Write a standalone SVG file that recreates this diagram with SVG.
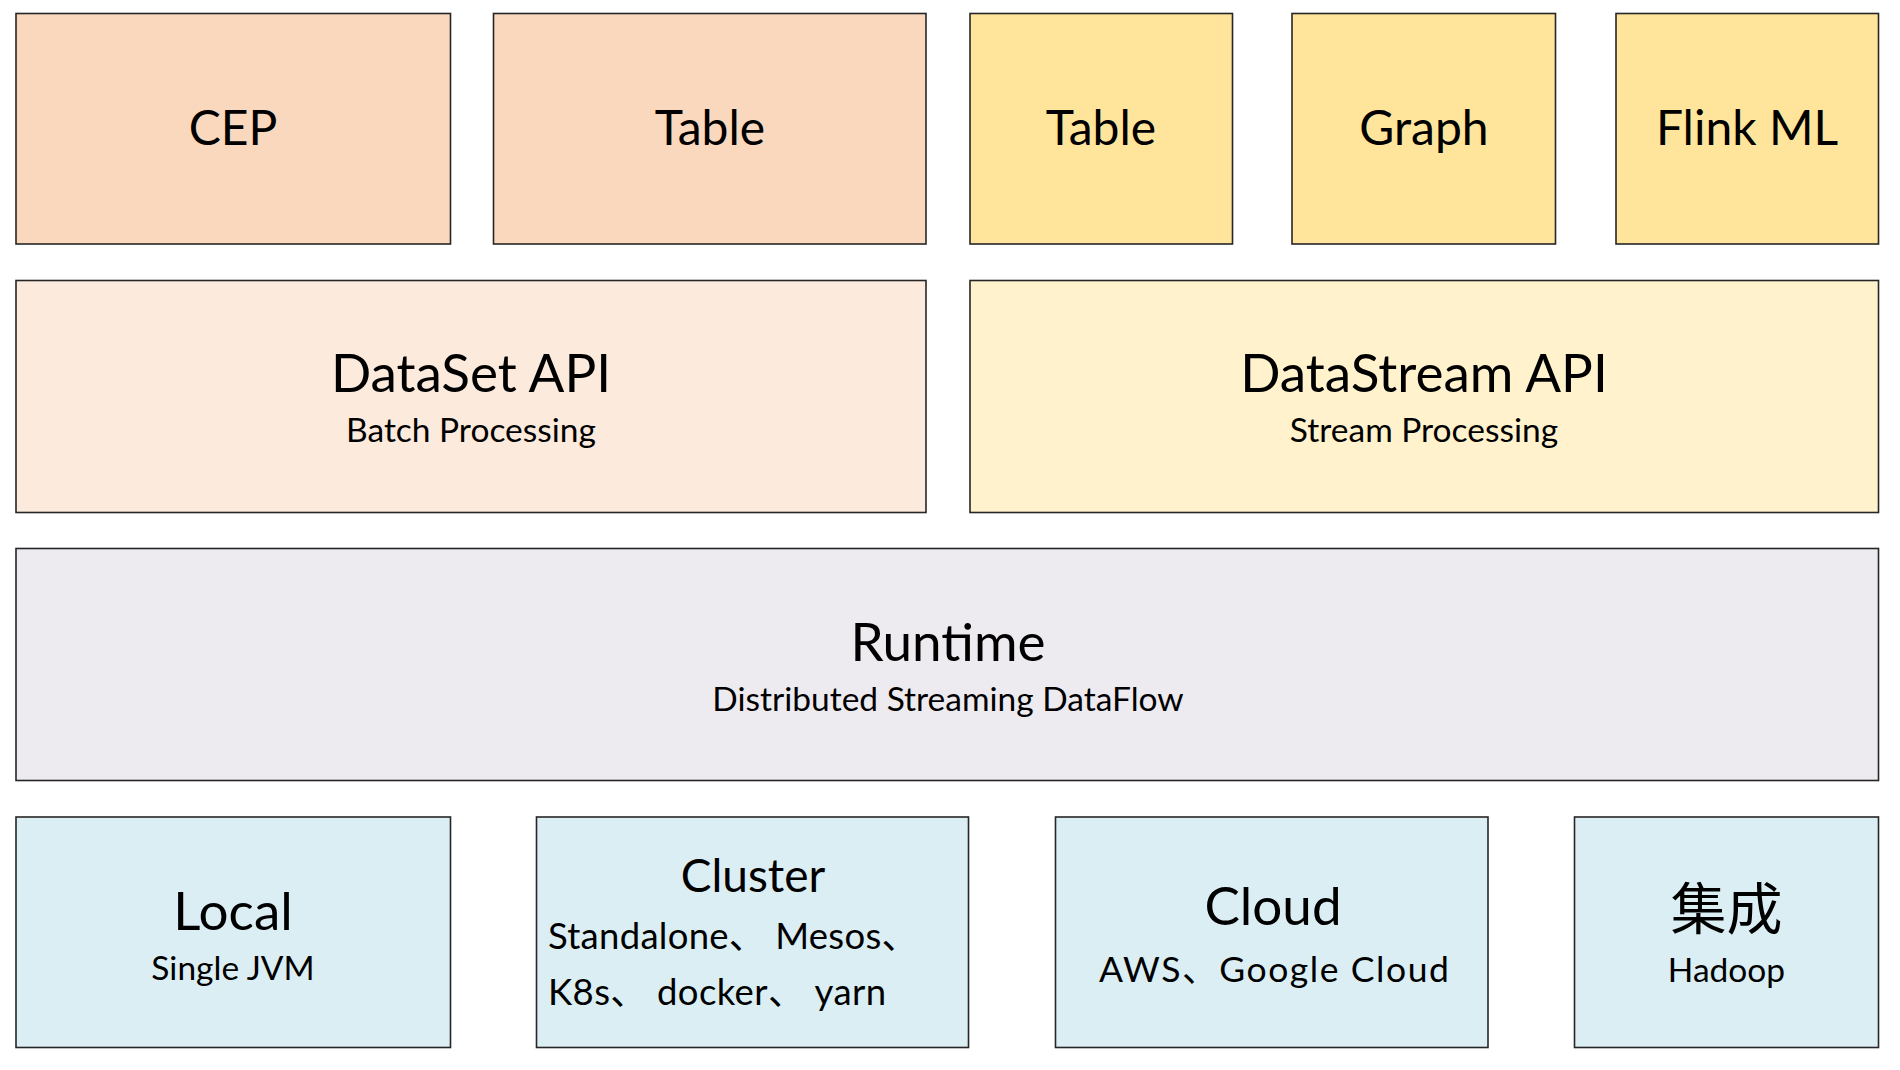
<svg xmlns="http://www.w3.org/2000/svg" width="1900" height="1070" viewBox="0 0 1900 1070">
<style>
.box{stroke:#262626;stroke-width:1.6}
text{font-family:Lato,"Noto Sans CJK SC",sans-serif;fill:#000;text-anchor:middle}
.peach{fill:#F9D8BD}
.peachL{fill:#FCEADC}
.gold{fill:#FFE59B}
.goldL{fill:#FFF2CC}
.lav{fill:#EDEAF0}
.blue{fill:#DBEEF3}
.lbl{font-size:48px}
.ttl{font-size:53px}
.sub{font-size:33.5px}
.sub2{font-size:35.5px}
.cl{font-size:36.5px;text-anchor:start}
</style>
<rect width="1900" height="1070" fill="#fff"/>
<g id="connectors"></g>
<g id="cep"><rect class="box peach" x="16" y="13.5" width="434.5" height="230.5"/><text class="lbl" x="233" y="144.5">CEP</text></g>
<g id="table-batch"><rect class="box peach" x="493.5" y="13.5" width="432.5" height="230.5"/><text class="lbl" x="710" y="144.5">Table</text></g>
<g id="table-stream"><rect class="box gold" x="970" y="13.5" width="262.5" height="230.5"/><text class="lbl" x="1101" y="144.5">Table</text></g>
<g id="graph"><rect class="box gold" x="1292" y="13.5" width="263.5" height="230.5"/><text class="lbl" x="1424" y="144.5">Graph</text></g>
<g id="flinkml"><rect class="box gold" x="1616" y="13.5" width="262.5" height="230.5"/><text class="lbl" x="1747" y="144.5">Flink ML</text></g>
<g id="dataset"><rect class="box peachL" x="16" y="280.5" width="910" height="232"/><text class="ttl" x="471" y="392">DataSet API</text><text class="sub" x="471" y="442">Batch Processing</text></g>
<g id="datastream"><rect class="box goldL" x="970" y="280.5" width="908.5" height="232"/><text class="ttl" x="1424" y="392">DataStream API</text><text class="sub" x="1424" y="442">Stream Processing</text></g>
<g id="runtime"><rect class="box lav" x="16" y="548.5" width="1862.5" height="232"/><text class="ttl" x="948" y="661">Runtime</text><text class="sub" x="948" y="711">Distributed Streaming DataFlow</text></g>
<g id="local"><rect class="box blue" x="16" y="817" width="434.5" height="230.5"/><text class="ttl" x="233" y="930">Local</text><text class="sub" x="233" y="980">Single JVM</text></g>
<g id="cluster"><rect class="box blue" x="536.5" y="817" width="432" height="230.5"/><text class="ttl" x="753" y="892" style="font-size:46px">Cluster</text><text class="cl" x="548" y="949" textLength="370">Standalone、 Mesos、</text><text class="cl" x="548" y="1005" textLength="338">K8s、 docker、 yarn</text></g>
<g id="cloud"><rect class="box blue" x="1055.5" y="817" width="432.5" height="230.5"/><text class="ttl" x="1273" y="925">Cloud</text><text class="sub2" x="1274" y="982" textLength="350">AWS、Google Cloud</text></g>
<g id="integration"><rect class="box blue" x="1574.5" y="817" width="304" height="230.5"/><text x="1726.5" y="929" style="font-size:56px">集成</text><text class="sub" x="1726.5" y="982">Hadoop</text></g>
</svg>
